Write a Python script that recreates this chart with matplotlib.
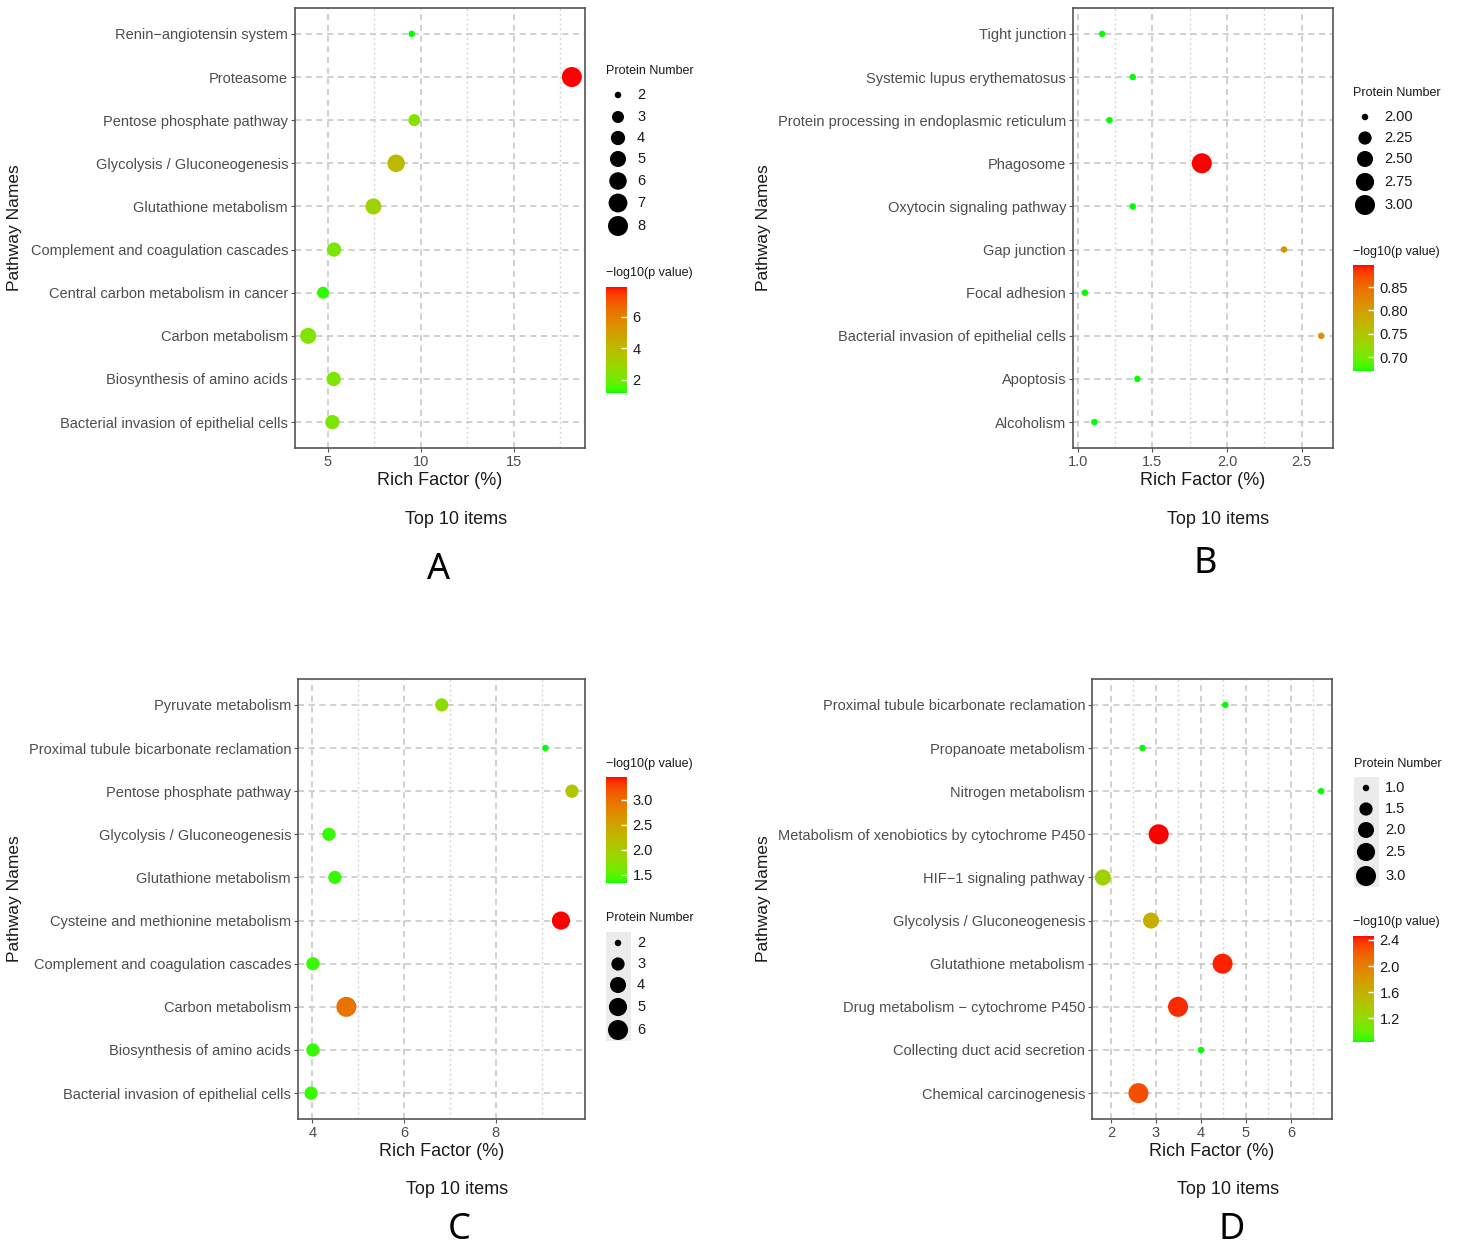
import numpy as np
import matplotlib
matplotlib.use("Agg")
import matplotlib.pyplot as plt
from matplotlib.colors import ListedColormap, Normalize
from matplotlib.cm import ScalarMappable

plt.rcParams['font.family'] = ['Liberation Sans', 'DejaVu Sans']

# ---- data (first item = top row) ----
a_names = ["Renin−angiotensin system", "Proteasome", "Pentose phosphate pathway",
           "Glycolysis / Gluconeogenesis", "Glutathione metabolism",
           "Complement and coagulation cascades", "Central carbon metabolism in cancer",
           "Carbon metabolism", "Biosynthesis of amino acids",
           "Bacterial invasion of epithelial cells"]
a_rich = [9.52, 18.13, 9.66, 8.68, 7.46, 5.34, 4.75, 3.95, 5.32, 5.25]
a_count = [2, 8, 3, 6, 5, 4, 3, 5, 4, 4]
a_logp = [1.16, 7.9, 2.5, 4.0, 3.0, 2.2, 1.3, 2.3, 2.2, 2.2]

b_names = ["Tight junction", "Systemic lupus erythematosus",
           "Protein processing in endoplasmic reticulum", "Phagosome",
           "Oxytocin signaling pathway", "Gap junction", "Focal adhesion",
           "Bacterial invasion of epithelial cells", "Apoptosis", "Alcoholism"]
b_rich = [1.163, 1.368, 1.212, 1.831, 1.368, 2.382, 1.047, 2.631, 1.399, 1.111]
b_count = [2, 2, 2, 3, 2, 2, 2, 2, 2, 2]
b_logp = [0.671, 0.671, 0.671, 0.897, 0.671, 0.812, 0.671, 0.812, 0.671, 0.671]

c_names = ["Pyruvate metabolism", "Proximal tubule bicarbonate reclamation",
           "Pentose phosphate pathway", "Glycolysis / Gluconeogenesis",
           "Glutathione metabolism", "Cysteine and methionine metabolism",
           "Complement and coagulation cascades", "Carbon metabolism",
           "Biosynthesis of amino acids", "Bacterial invasion of epithelial cells"]
c_rich = [6.82, 9.08, 9.66, 4.36, 4.49, 9.42, 4.01, 4.74, 4.01, 3.97]
c_count = [3, 2, 3, 3, 3, 5, 3, 6, 3, 3]
c_logp = [1.8, 1.335, 2.1, 1.4, 1.4, 3.45, 1.4, 2.95, 1.4, 1.4]

d_names = ["Proximal tubule bicarbonate reclamation", "Propanoate metabolism",
           "Nitrogen metabolism", "Metabolism of xenobiotics by cytochrome P450",
           "HIF−1 signaling pathway", "Glycolysis / Gluconeogenesis",
           "Glutathione metabolism", "Drug metabolism − cytochrome P450",
           "Collecting duct acid secretion", "Chemical carcinogenesis"]
d_rich = [4.54, 2.70, 6.67, 3.06, 1.82, 2.89, 4.48, 3.49, 4.0, 2.61]
d_count = [1, 1, 1, 3, 2, 2, 3, 3, 1, 3]
d_logp = [0.84, 0.84, 0.84, 2.46, 1.32, 1.62, 2.42, 2.40, 0.84, 2.28]


# ---- green -> red gradient interpolated in Lab, like ggplot ----
M = np.array([[0.4124, 0.3576, 0.1805], [0.2126, 0.7152, 0.0722], [0.0193, 0.1192, 0.9505]])
WHITE = np.array([0.95047, 1.0, 1.08883])


def srgb_to_lab(rgb):
    c = np.asarray(rgb, float)
    lin = np.where(c <= 0.04045, c / 12.92, ((c + 0.055) / 1.055) ** 2.4)
    xyz = M @ lin / WHITE
    f = np.where(xyz > 0.008856, np.cbrt(xyz), 7.787 * xyz + 16 / 116)
    return np.array([116 * f[1] - 16, 500 * (f[0] - f[1]), 200 * (f[1] - f[2])])


def lab_to_srgb(lab):
    L, a, b = lab
    fy = (L + 16) / 116
    f = np.array([fy + a / 500, fy, fy - b / 200])
    xyz = np.where(f ** 3 > 0.008856, f ** 3, (f - 16 / 116) / 7.787) * WHITE
    lin = np.clip(np.linalg.inv(M) @ xyz, 0, 1)
    c = np.where(lin <= 0.0031308, 12.92 * lin, 1.055 * lin ** (1 / 2.4) - 0.055)
    return np.clip(c, 0, 1)


lo, hi = srgb_to_lab([0, 1, 0]), srgb_to_lab([1, 0, 0])
cmap = ListedColormap([lab_to_srgb(lo + t * (hi - lo)) for t in np.linspace(0, 1, 256)])

W, H = 1458, 1254
fig = plt.figure(figsize=(W / 100, H / 100), dpi=100)


def px_axes(l, t, r, b):
    return fig.add_axes([l / W, 1 - b / H, (r - l) / W, (b - t) / H])


DMIN, DMAX = 6.5, 20.0  # point diameter in px


def point_size(v, vmin, vmax):
    frac = (np.asarray(v, float) - vmin) / (vmax - vmin)
    d = DMIN + (DMAX - DMIN) * np.sqrt(frac)
    return (d * 0.72) ** 2


def format_tick(v, ticks):
    if any(abs(t - round(t)) > 1e-9 for t in ticks):
        return "%.1f" % v
    return "%d" % v


def panel(box, names, rich, count, logp, xticks, letter, ylab_x, cap_x, cap_y, letter_x, letter_y):
    ax = px_axes(*box)
    n = len(names)
    y = np.arange(n)[::-1]
    ax.scatter(rich, y, s=point_size(count, min(count), max(count)), c=logp, cmap=cmap,
               vmin=min(logp), vmax=max(logp), zorder=3, linewidths=0)
    ax.set_yticks(y)
    ax.set_yticklabels(names)
    ax.set_xticks(xticks)
    ax.set_xticklabels([format_tick(v, xticks) for v in xticks])
    step = xticks[1] - xticks[0]
    minor = [xticks[0] - step / 2] + [t + step / 2 for t in xticks]
    ax.set_xticks(minor, minor=True)
    # limits after the ticks so the ticks do not widen them
    span = max(rich) - min(rich)
    ax.set_xlim(min(rich) - 0.05 * span, max(rich) + 0.05 * span)
    ax.set_ylim(-0.6, n - 0.4)
    ax.grid(True, which='major', axis='both', color='#c4c4c4', linestyle=(0, (4, 3)), linewidth=1.1, zorder=0)
    ax.grid(True, which='minor', axis='x', color='#d6d6d6', linestyle=(0, (1.5, 2)), linewidth=1.0, zorder=0)
    ax.tick_params(axis='both', which='major', length=3, color='#555555', labelsize=10.5,
                   labelcolor='#4d4d4d', pad=2)
    ax.tick_params(axis='x', which='minor', length=0)
    for sp in ax.spines.values():
        sp.set_color('#555555')
        sp.set_linewidth(1.2)
    ax.set_axisbelow(True)
    ax.set_xlabel("Rich Factor (%)", fontsize=13, labelpad=2, color='#1a1a1a')
    fig.text(ylab_x / W, 1 - ((box[1] + box[3]) / 2) / H, "Pathway Names", rotation=90,
             fontsize=12.5, ha='center', va='center', color='#1a1a1a')
    fig.text(cap_x / W, 1 - cap_y / H, "Top 10 items", fontsize=13, ha='center', va='center',
             color='#1a1a1a')
    fig.text(letter_x / W, 1 - letter_y / H, letter, fontsize=26, ha='center', va='center',
             family=['Noto Sans', 'DejaVu Sans'])
    return ax


def size_legend(x, title_y, key_ys, breaks, cmin, cmax, fmt, grey=False):
    fig.text(x / W, 1 - title_y / H, "Protein Number", fontsize=9, ha='left', va='center',
             color='#1a1a1a')
    ax = px_axes(x, key_ys[0] - 11, x + 25, key_ys[-1] + 11)
    ax.set_xlim(0, 25)
    ax.set_ylim(key_ys[-1] + 11, key_ys[0] - 11)
    ax.set_xticks([])
    ax.set_yticks([])
    for sp in ax.spines.values():
        sp.set_visible(False)
    ax.set_facecolor('#ebebeb' if grey else 'none')
    ax.scatter([12] * len(breaks), key_ys, s=point_size(breaks, cmin, cmax), color='black',
               linewidths=0, clip_on=False)
    for ky, b in zip(key_ys, breaks):
        fig.text((x + 31) / W, 1 - ky / H, fmt % b, fontsize=10.5, ha='left', va='center',
                 color='#1a1a1a')


def color_legend(x, title_y, bar_top, bar_bot, vmin, vmax, ticks, fmt):
    fig.text(x / W, 1 - title_y / H, "−log10(p value)", fontsize=9, ha='left', va='center',
             color='#1a1a1a')
    cax = px_axes(x, bar_top, x + 21, bar_bot)
    sm = ScalarMappable(norm=Normalize(vmin, vmax), cmap=cmap)
    cb = fig.colorbar(sm, cax=cax, ticks=ticks)
    cb.outline.set_visible(False)
    cb.ax.set_yticklabels([fmt % t for t in ticks])
    cb.ax.tick_params(length=4, color='white', direction='in', width=1, labelsize=10.5,
                      labelcolor='#1a1a1a', pad=4)


# A
panel((295, 8, 585, 448), a_names, a_rich, a_count, a_logp, [5, 10, 15], "A", 15, 456, 520, 439, 570)
size_legend(606, 71, [95, 117, 138, 159, 181, 203, 226], [2, 3, 4, 5, 6, 7, 8], 2, 8, "%d")
color_legend(606, 273, 287, 393, min(a_logp), max(a_logp), [2, 4, 6], "%d")

# B
panel((1073, 8, 1333, 448), b_names, b_rich, b_count, b_logp, [1.0, 1.5, 2.0, 2.5], "B", 763, 1218, 520, 1205, 564)
size_legend(1353, 93, [117, 138, 159, 182, 205], [2.0, 2.25, 2.5, 2.75, 3.0], 2, 3, "%.2f")
color_legend(1353, 252, 265, 371, min(b_logp), max(b_logp), [0.70, 0.75, 0.80, 0.85], "%.2f")

# C
panel((298, 679, 585, 1119), c_names, c_rich, c_count, c_logp, [4, 6, 8], "C", 15, 457, 1190, 459, 1230)
color_legend(606, 764, 777, 883, min(c_logp), max(c_logp), [1.5, 2.0, 2.5, 3.0], "%.1f")
size_legend(606, 918, [943, 964, 985, 1007, 1030], [2, 3, 4, 5, 6], 2, 6, "%d", grey=True)

# D
panel((1092, 679, 1332, 1119), d_names, d_rich, d_count, d_logp, [2, 3, 4, 5, 6], "D", 763, 1228, 1190, 1232, 1230)
size_legend(1354, 764, [788, 809, 830, 852, 876], [1.0, 1.5, 2.0, 2.5, 3.0], 1, 3, "%.1f", grey=True)
color_legend(1353, 922, 936, 1042, min(d_logp), max(d_logp), [1.2, 1.6, 2.0, 2.4], "%.1f")

fig.savefig("out.png", dpi=100, facecolor='white')
